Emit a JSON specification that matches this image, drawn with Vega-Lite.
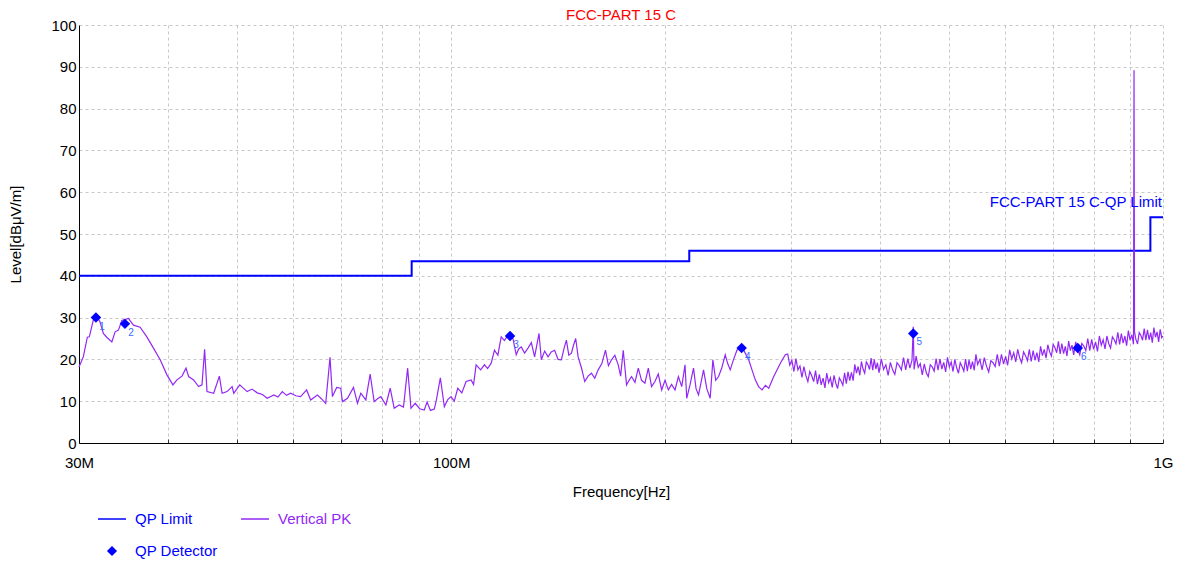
{
 "$schema": "https://vega.github.io/schema/vega-lite/v6.json",
 "width": 1084, "height": 418,
 "autosize": {"type": "none"},
 "padding": {"left": 79, "top": 25, "right": 20, "bottom": 120},
 "background": "white",
 "config": {"view": {"stroke": null}, "font": "Liberation Sans"},
 "title": {"text": "FCC-PART 15 C", "color": "#FF0000", "fontSize": 15, "fontWeight": "normal", "offset": -5, "anchor": "middle", "font": "Liberation Sans"},
 "datasets": {
  "limit": [{"f":30,"v":40},{"f":88,"v":43.5},{"f":216,"v":46},{"f":960,"v":54},{"f":1000,"v":54}],
  "qp": [{"f":31.69,"v":30.0,"n":"1"},{"f":34.81,"v":28.5,"n":"2"},{"f":120.97,"v":25.6,"n":"3"},{"f":255.9,"v":22.7,"n":"4"},{"f":445.8,"v":26.2,"n":"5"},{"f":759,"v":22.7,"n":"6"}],
  "lbl": [{"f":1000,"v":54,"t":"FCC-PART 15 C-QP Limit"}],
  "pk": [
{"f":30.0,"v":18.2},{"f":30.42,"v":20.6},{"f":30.82,"v":25.3},{"f":31.02,"v":25.4},{"f":31.42,"v":29.4},{"f":31.77,"v":30.2},{"f":32.11,"v":29.0},{"f":32.46,"v":26.2},{"f":32.82,"v":25.3},{"f":33.36,"v":24.2},{"f":33.72,"v":26.6},{"f":34.08,"v":27.0},{"f":34.46,"v":29.3},{"f":35.2,"v":29.8},{"f":35.78,"v":28.2},{"f":36.56,"v":27.7},{"f":37.36,"v":25.4},{"f":38.17,"v":22.7},{"f":39.01,"v":19.9},{"f":39.87,"v":16.3},{"f":40.65,"v":13.9},{"f":41.18,"v":15.1},{"f":41.86,"v":16.0},{"f":42.41,"v":17.9},{"f":42.77,"v":15.9},{"f":43.46,"v":15.1},{"f":44.18,"v":13.5},{"f":44.66,"v":13.9},{"f":45.04,"v":22.4},{"f":45.39,"v":12.3},{"f":46.38,"v":11.9},{"f":47.24,"v":16.0},{"f":47.66,"v":11.9},{"f":48.44,"v":12.3},{"f":49.23,"v":13.5},{"f":49.49,"v":11.9},{"f":50.46,"v":13.9},{"f":51.68,"v":12.3},{"f":52.5,"v":12.9},{"f":53.39,"v":12.0},{"f":54.3,"v":11.6},{"f":55.15,"v":10.7},{"f":56.35,"v":11.5},{"f":57.1,"v":11.0},{"f":57.9,"v":12.3},{"f":58.7,"v":11.4},{"f":59.48,"v":11.9},{"f":60.5,"v":11.3},{"f":61.44,"v":11.1},{"f":62.65,"v":12.7},{"f":63.47,"v":10.3},{"f":64.87,"v":11.5},{"f":65.7,"v":10.6},{"f":66.64,"v":9.5},{"f":67.57,"v":20.5},{"f":68.1,"v":11.1},{"f":69.05,"v":13.3},{"f":69.96,"v":13.1},{"f":70.34,"v":9.9},{"f":71.5,"v":10.7},{"f":72.9,"v":13.3},{"f":73.85,"v":9.5},{"f":74.65,"v":11.9},{"f":75.87,"v":10.3},{"f":76.94,"v":16.5},{"f":77.94,"v":9.9},{"f":78.8,"v":10.6},{"f":79.65,"v":11.1},{"f":80.96,"v":9.1},{"f":82.09,"v":13.1},{"f":83.16,"v":8.3},{"f":84.52,"v":9.1},{"f":85.7,"v":8.6},{"f":86.86,"v":17.9},{"f":87.8,"v":8.3},{"f":89.0,"v":9.5},{"f":90.3,"v":8.2},{"f":91.66,"v":7.9},{"f":92.5,"v":9.8},{"f":93.5,"v":7.8},{"f":94.68,"v":8.1},{"f":95.3,"v":10.2},{"f":96.55,"v":15.6},{"f":97.81,"v":8.7},{"f":98.9,"v":10.4},{"f":99.95,"v":11.1},{"f":101.0,"v":10.0},{"f":102.15,"v":13.1},{"f":103.5,"v":12.0},{"f":104.94,"v":14.7},{"f":106.66,"v":15.1},{"f":107.5,"v":14.0},{"f":108.4,"v":18.7},{"f":110.0,"v":17.5},{"f":111.36,"v":18.7},{"f":112.5,"v":17.8},{"f":113.81,"v":19.1},{"f":115.03,"v":22.2},{"f":116.3,"v":21.0},{"f":117.56,"v":25.4},{"f":118.8,"v":24.5},{"f":120.14,"v":25.8},{"f":122.11,"v":25.0},{"f":123.42,"v":21.1},{"f":124.4,"v":22.5},{"f":125.44,"v":23.0},{"f":126.8,"v":21.5},{"f":128.2,"v":22.7},{"f":129.6,"v":24.0},{"f":130.97,"v":20.6},{"f":132.86,"v":26.2},{"f":133.85,"v":19.9},{"f":135.3,"v":22.0},{"f":136.79,"v":20.6},{"f":138.2,"v":21.8},{"f":139.75,"v":22.2},{"f":141.3,"v":20.0},{"f":142.82,"v":19.9},{"f":144.0,"v":22.5},{"f":145.16,"v":24.6},{"f":146.3,"v":21.0},{"f":147.53,"v":21.5},{"f":148.6,"v":23.5},{"f":149.6,"v":25.0},{"f":150.77,"v":20.6},{"f":152.4,"v":18.0},{"f":154.03,"v":14.7},{"f":155.7,"v":16.0},{"f":157.42,"v":16.7},{"f":159.1,"v":15.5},{"f":160.88,"v":17.5},{"f":162.8,"v":19.0},{"f":164.73,"v":22.2},{"f":166.3,"v":18.5},{"f":167.97,"v":19.9},{"f":169.8,"v":21.0},{"f":171.66,"v":18.7},{"f":173.0,"v":16.0},{"f":174.47,"v":22.2},{"f":176.35,"v":13.9},{"f":177.8,"v":15.0},{"f":179.23,"v":15.9},{"f":181.2,"v":14.5},{"f":183.17,"v":17.9},{"f":185.1,"v":15.0},{"f":187.14,"v":14.3},{"f":189.21,"v":17.9},{"f":191.2,"v":13.5},{"f":193.31,"v":14.7},{"f":195.4,"v":16.5},{"f":197.56,"v":12.7},{"f":199.7,"v":15.0},{"f":201.9,"v":12.7},{"f":204.0,"v":14.0},{"f":206.27,"v":12.7},{"f":208.55,"v":15.9},{"f":210.8,"v":13.5},{"f":213.06,"v":18.7},{"f":214.24,"v":10.7},{"f":216.6,"v":14.0},{"f":219.0,"v":17.9},{"f":220.8,"v":13.0},{"f":222.58,"v":11.5},{"f":224.4,"v":14.5},{"f":226.22,"v":17.5},{"f":228.6,"v":13.0},{"f":231.12,"v":10.7},{"f":233.15,"v":19.9},{"f":235.3,"v":15.0},{"f":237.5,"v":15.9},{"f":240.0,"v":18.0},{"f":242.64,"v":21.1},{"f":244.6,"v":19.0},{"f":246.61,"v":17.5},{"f":249.3,"v":20.0},{"f":252.03,"v":22.2},{"f":256.16,"v":23.0},{"f":258.9,"v":21.5},{"f":261.79,"v":19.9},{"f":264.6,"v":17.5},{"f":267.44,"v":15.1},{"f":270.3,"v":13.5},{"f":273.32,"v":12.7},{"f":276.3,"v":13.8},{"f":279.32,"v":13.1},{"f":283.89,"v":15.9},{"f":287.0,"v":17.5},{"f":290.04,"v":19.1},{"f":294.7,"v":21.1},
{"f":297,"v":21.3},{"f":299,"v":18.6},{"f":301,"v":19.8},{"f":303,"v":17.1},{"f":305,"v":20.2},{"f":307,"v":17.5},{"f":309,"v":18.4},{"f":311,"v":15.7},{"f":313,"v":18.3},{"f":315,"v":16.1},{"f":317,"v":14.7},{"f":319,"v":17.1},{"f":321,"v":16.1},{"f":323,"v":14.7},{"f":325,"v":17.3},{"f":327,"v":14.1},{"f":329,"v":16.4},{"f":331,"v":13.9},{"f":333,"v":15.5},{"f":335,"v":13.2},{"f":337,"v":16.7},{"f":339,"v":14.4},{"f":341,"v":15.6},{"f":343,"v":13.3},{"f":345,"v":16.2},{"f":347,"v":14.3},{"f":349,"v":13.0},{"f":351,"v":15.6},{"f":353,"v":14.8},{"f":355,"v":13.8},{"f":357,"v":16.8},{"f":359,"v":14.2},{"f":361,"v":17.0},{"f":363,"v":14.9},{"f":365,"v":16.9},{"f":367,"v":14.9},{"f":369,"v":18.8},{"f":371,"v":16.7},{"f":373,"v":18.3},{"f":375,"v":16.2},{"f":377,"v":19.5},{"f":379,"v":17.7},{"f":381,"v":16.7},{"f":383,"v":19.4},{"f":385,"v":18.7},{"f":387,"v":17.6},{"f":389,"v":20.3},{"f":391,"v":17.4},{"f":393,"v":20.0},{"f":395,"v":17.7},{"f":397,"v":19.2},{"f":399,"v":16.8},
{"f":402,"v":20.1},{"f":405,"v":17.6},{"f":408,"v":18.7},{"f":411,"v":16.2},{"f":414,"v":19.3},{"f":417,"v":17.5},{"f":420,"v":16.4},{"f":423,"v":19.2},{"f":426,"v":18.5},{"f":429,"v":17.5},{"f":432,"v":20.4},{"f":435,"v":17.5},{"f":438,"v":20.2},{"f":441,"v":17.9},{"f":444,"v":19.8},{"f":445.8,"v":27.8},{"f":447,"v":17.6},{"f":450,"v":20.8},{"f":453,"v":18.1},{"f":456,"v":19.0},{"f":459,"v":16.3},{"f":462,"v":18.9},{"f":465,"v":16.8},{"f":468,"v":15.9},{"f":471,"v":18.7},{"f":474,"v":18.2},{"f":477,"v":17.2},{"f":480,"v":20.2},{"f":483,"v":17.4},{"f":486,"v":20.1},{"f":489,"v":17.7},{"f":492,"v":19.3},{"f":495,"v":17.0},{"f":498,"v":20.5},{"f":501,"v":18.2},{"f":504,"v":19.4},{"f":507,"v":17.1},{"f":510,"v":20.0},{"f":513,"v":18.0},{"f":516,"v":16.7},{"f":519,"v":19.2},{"f":522,"v":18.3},{"f":525,"v":17.2},{"f":528,"v":20.1},{"f":531,"v":17.2},{"f":534,"v":19.9},{"f":537,"v":17.7},{"f":540,"v":19.5},{"f":543,"v":17.4},{"f":546,"v":21.2},{"f":549,"v":18.8},
{"f":553,"v":20.0},{"f":557,"v":17.5},{"f":561,"v":20.4},{"f":565,"v":18.4},{"f":569,"v":17.0},{"f":573,"v":19.7},{"f":577,"v":19.2},{"f":581,"v":18.3},{"f":585,"v":21.2},{"f":589,"v":18.4},{"f":593,"v":21.2},{"f":597,"v":18.9},{"f":601,"v":20.7},{"f":605,"v":18.6},{"f":609,"v":22.3},{"f":613,"v":20.1},{"f":617,"v":21.6},{"f":621,"v":19.4},{"f":625,"v":22.4},{"f":629,"v":20.4},{"f":633,"v":19.2},{"f":637,"v":21.8},{"f":641,"v":20.9},{"f":645,"v":19.7},{"f":649,"v":22.4},{"f":653,"v":19.5},{"f":657,"v":22.1},{"f":661,"v":19.8},{"f":665,"v":21.6},{"f":669,"v":19.4},{"f":673,"v":23.1},{"f":677,"v":20.9},{"f":681,"v":22.4},{"f":685,"v":20.3},{"f":689,"v":23.5},{"f":693,"v":21.8},{"f":697,"v":20.8},{"f":701,"v":23.6},{"f":705,"v":22.8},{"f":709,"v":21.6},{"f":713,"v":24.3},{"f":717,"v":21.3},{"f":721,"v":23.8},{"f":725,"v":21.4},{"f":729,"v":23.1},{"f":733,"v":20.8},{"f":737,"v":24.4},{"f":741,"v":22.1},{"f":745,"v":23.4},{"f":749,"v":21.1},
{"f":754,"v":24.2},{"f":759,"v":22.3},{"f":764,"v":21.1},{"f":769,"v":23.8},{"f":774,"v":23.2},{"f":779,"v":22.1},{"f":784,"v":25.0},{"f":789,"v":22.1},{"f":794,"v":24.8},{"f":799,"v":22.4},{"f":804,"v":24.2},{"f":809,"v":21.9},{"f":814,"v":25.6},{"f":819,"v":23.4},{"f":824,"v":24.7},{"f":829,"v":22.5},{"f":834,"v":25.6},{"f":839,"v":23.8},{"f":844,"v":22.7},{"f":849,"v":25.4},{"f":854,"v":24.7},{"f":859,"v":23.7},{"f":864,"v":26.5},{"f":869,"v":23.6},{"f":874,"v":26.2},{"f":879,"v":23.9},{"f":884,"v":25.6},{"f":889,"v":23.3},{"f":894,"v":26.9},{"f":899,"v":24.6},{"f":904,"v":25.9},{"f":909,"v":23.6},{"f":910.5,"v":89.2},{"f":912,"v":26.6},{"f":916,"v":24.8},{"f":921,"v":23.7},{"f":926,"v":26.4},{"f":931,"v":25.7},{"f":936,"v":24.6},{"f":941,"v":27.4},{"f":946,"v":24.6},{"f":951,"v":27.1},{"f":956,"v":24.7},{"f":961,"v":26.4},{"f":966,"v":24.0},{"f":971,"v":27.6},{"f":976,"v":25.3},{"f":981,"v":26.6},{"f":986,"v":24.2},{"f":991,"v":27.2},{"f":996,"v":25.2},{"f":1000,"v":25.6}
  ]
 },
 "encoding": {
  "x": {"field": "f", "type": "quantitative",
   "scale": {"type": "log", "domain": [30, 1000], "nice": false},
   "axis": {"title": "Frequency[Hz]", "titleFontSize": 15, "titleFontWeight": "normal", "titleColor": "#000000", "titlePadding": 14,
    "values": [30,40,50,60,70,80,90,100,200,300,400,500,600,700,800,900,1000],
    "labelExpr": "datum.value == 30 ? '30M' : datum.value == 100 ? '100M' : datum.value == 1000 ? '1G' : ''",
    "labelFontSize": 15, "labelColor": "#000000", "labelPadding": 16, "labelFlush": false,
    "grid": true, "gridDash": [3, 3], "gridColor": "#c8c8c8", "gridOpacity": 1,
    "domainColor": "#000000", "domainWidth": 1, "ticks": true, "tickSize": -4, "tickColor": "#333333"}},
  "y": {"field": "v", "type": "quantitative",
   "scale": {"domain": [0, 100], "nice": false},
   "axis": {"title": "Level[dBμV/m]", "titleFontSize": 15, "titleFontWeight": "normal", "titleColor": "#000000", "titlePadding": 27,
    "values": [0,10,20,30,40,50,60,70,80,90,100],
    "labelFontSize": 15, "labelColor": "#000000", "labelPadding": 3,
    "grid": true, "gridDash": [3, 3], "gridColor": "#c8c8c8", "gridOpacity": 1,
    "domainColor": "#000000", "domainWidth": 1, "ticks": false}}
 },
 "layer": [
  {"data": {"name": "limit"},
   "mark": {"type": "line", "interpolate": "step-after", "strokeWidth": 2},
   "encoding": {"color": {"datum": "QP Limit", "type": "nominal",
    "scale": {"domain": ["QP Limit", "Vertical PK", "QP Detector"], "range": ["#0000FF", "#9228F5", "#0000FF"]},
    "legend": {"orient": "none", "legendX": 18, "legendY": 479, "direction": "horizontal", "columns": 2, "title": null,
     "labelFontSize": 15, "labelFont": "Liberation Sans", "columnPadding": 20, "rowPadding": 9, "labelOffset": 8,
     "symbolType": "stroke", "symbolSize": 784, "symbolStrokeWidth": 1.5,
     "encode": {
      "labels": {"update": {"fill": {"scale": "color", "field": "value"}}},
      "symbols": {"update": {
       "shape": {"signal": "datum.value === 'QP Detector' ? 'diamond' : 'stroke'"},
       "size": {"signal": "datum.value === 'QP Detector' ? 64 : 784"},
       "fill": {"signal": "datum.value === 'QP Detector' ? '#0000FF' : 'transparent'"},
       "stroke": {"scale": "color", "field": "value"}}}}}}}},
  {"data": {"name": "pk"},
   "mark": {"type": "line", "strokeWidth": 1.2},
   "encoding": {"color": {"datum": "Vertical PK", "type": "nominal"}}},
  {"data": {"name": "qp"},
   "mark": {"type": "point", "shape": "diamond", "filled": true, "size": 110, "opacity": 1},
   "encoding": {"color": {"datum": "QP Detector", "type": "nominal"}}},
  {"data": {"name": "qp"},
   "mark": {"type": "text", "dx": 6, "dy": 9, "fontSize": 10, "color": "#3a6bff", "align": "center"},
   "encoding": {"text": {"field": "n"}}},
  {"data": {"name": "lbl"},
   "mark": {"type": "text", "align": "right", "baseline": "bottom", "dx": -1, "dy": -7, "fontSize": 15, "color": "#0000FF"},
   "encoding": {"text": {"field": "t"}}}
 ]
}
